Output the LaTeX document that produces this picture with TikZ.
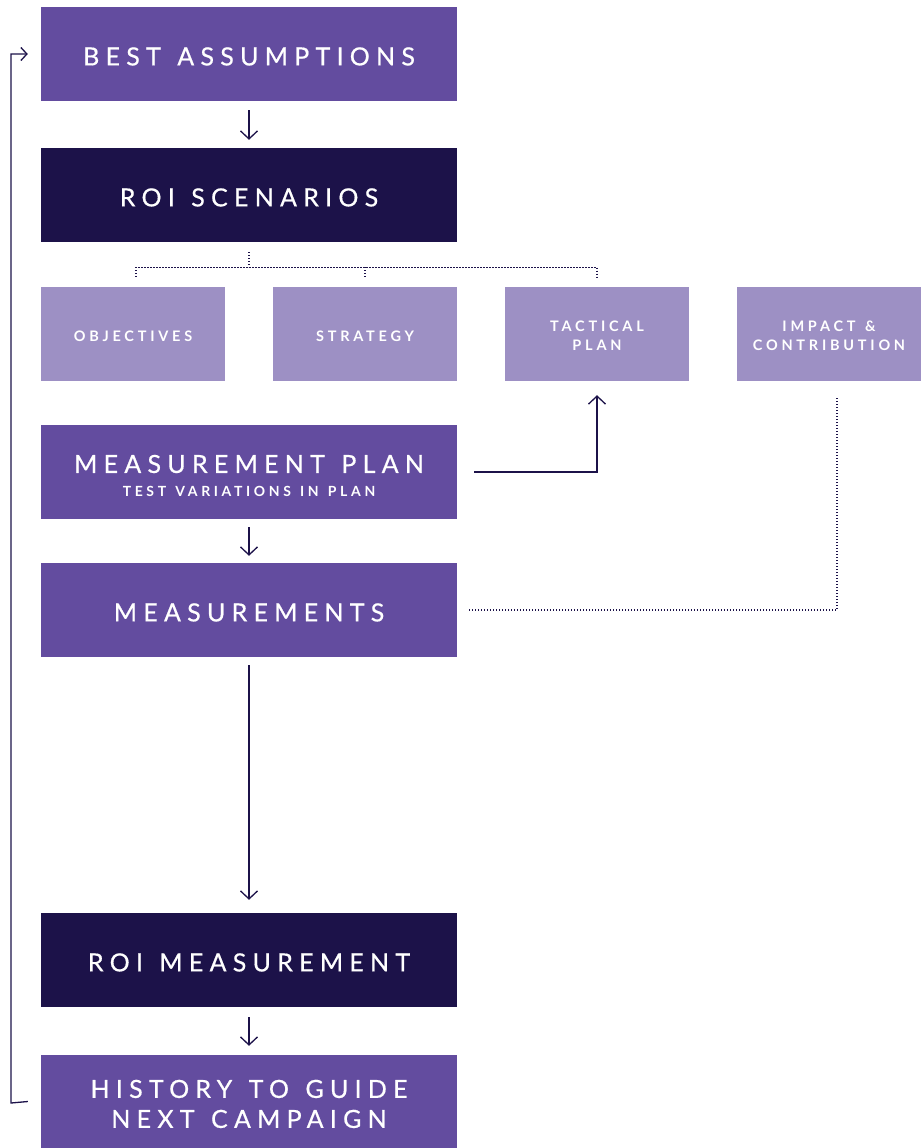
\documentclass[tikz,border=0pt]{standalone}
\usepackage{fontspec}
\setmainfont{Lato}
\newfontfamily\boxfont{Lato}[LetterSpace=25,WordSpace=1.3,FakeBold=0.6]
\newfontfamily\smallboxfont{Lato Bold}[LetterSpace=26,WordSpace=1.3]
\usetikzlibrary{arrows.meta,positioning}
\definecolor{roipurple}{HTML}{634C9F}
\definecolor{roinavy}{HTML}{1C1249}
\definecolor{roililac}{HTML}{9D90C4}
\begin{document}
\begin{tikzpicture}[x=1pt,y=-1pt,
	mainbox/.style={rectangle, fill=roipurple, text=white, minimum width=416pt, minimum height=94pt, inner sep=0pt, align=center, font=\boxfont\fontsize{25}{30}\selectfont, execute at begin node={\rule{0pt}{23pt}}},
	darkbox/.style={mainbox, fill=roinavy},
	twoline/.style={execute at begin node={\rule{0pt}{53pt}}},
	subbox/.style={rectangle, fill=roililac, text=white, minimum width=184pt, minimum height=94pt, inner sep=0pt, align=center, font=\smallboxfont\fontsize{14.5}{19}\selectfont, execute at begin node={\rule{0pt}{14.5pt}}},
	twolinesub/.style={execute at begin node={\rule{0pt}{33.5pt}}},
	flow/.style={draw=roinavy, line width=1.3pt, -{Straight Barb[length=8pt,width=17pt,line width=1.3pt]}},
	link/.style={draw=roinavy, line width=1.1pt, dash pattern=on 1.1pt off 1.9pt}
	]
	\useasboundingbox (0,0) rectangle (923,1148);
	% main column
	\node [mainbox] (best) at (249,54) {BEST ASSUMPTIONS};
	\node [darkbox] (scen) at (249,195) {ROI SCENARIOS};
	\node [subbox] (obj) at (133,334) {OBJECTIVES};
	\node [subbox] (strat) at (365,334) {STRATEGY};
	\node [subbox, twolinesub] (tact) at (597,334) {TACTICAL\\PLAN};
	\node [subbox, twolinesub] (impact) at (829,334) {IMPACT \&\\CONTRIBUTION};
	\node [mainbox, execute at begin node={\rule{0pt}{50pt}}] (mplan) at (249,472) {MEASUREMENT PLAN\\[-6pt]{\smallboxfont\fontsize{14}{16}\selectfont TEST VARIATIONS IN PLAN}};
	\node [mainbox] (meas) at (249,610) {MEASUREMENTS};
	\node [darkbox] (roim) at (249,960) {ROI MEASUREMENT};
	\node [mainbox, twoline, minimum height=93pt] (hist) at (249,1101.5) {HISTORY TO GUIDE\\NEXT CAMPAIGN};
	% arrows down
	\draw [flow, shorten <=9pt, shorten >=8pt] (best.south) -- (scen.north);
	\draw [flow, shorten <=8pt, shorten >=7pt] (mplan.south) -- (meas.north);
	\draw [flow, shorten <=8pt, shorten >=13pt] (meas.south) -- (roim.north);
	\draw [flow, shorten <=10pt, shorten >=9pt] (roim.south) -- (hist.north);
	% plan feeds tactics
	\draw [flow] ([xshift=17pt]mplan.east) -| ([yshift=-14pt]tact.south);
	% dotted tree under scenarios
	\coordinate (fork) at ([yshift=-25pt]scen.south);
	\draw [link] ([yshift=-10pt]scen.south) -- (fork);
	\draw [link] ([xshift=3pt,yshift=10pt]obj.north) |- (fork) -| ([yshift=10pt]tact.north);
	\draw [link] ([yshift=10pt]strat.north) -- (strat.north |- fork);
	% measurements to impact
	\coordinate (corner) at (837,610);
	\coordinate (impactend) at ([yshift=-15pt]impact.south);
	\draw [link] ([xshift=12pt]meas.east) -- (corner) -- (corner |- impactend);
	% loop back
	\coordinate (loop) at (11,1103);
	\draw [flow, -{Straight Barb[length=6pt,width=13pt,line width=1.3pt]}] ([xshift=-13pt]hist.west) -- (loop) -- (loop |- best.west) -- ([xshift=-13pt]best.west);
\end{tikzpicture}
\end{document}
